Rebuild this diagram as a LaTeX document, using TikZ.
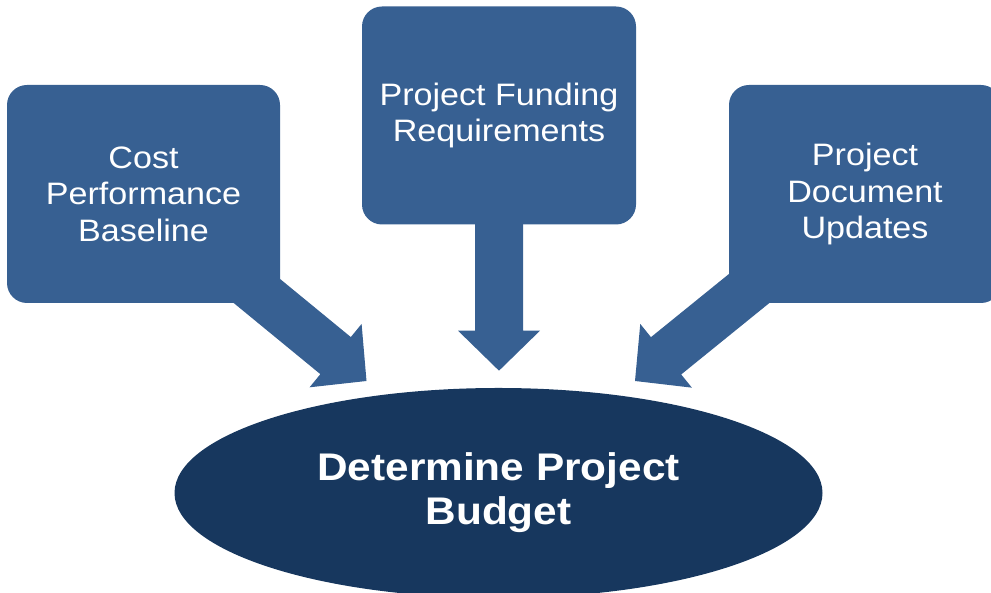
\documentclass[tikz,border=0pt]{standalone}
\usepackage{fontspec}
\setmainfont{Liberation Sans}[FakeStretch=1.1]
\usetikzlibrary{calc,shapes.geometric}
\definecolor{boxblue}{RGB}{55,96,146}
\definecolor{deepblue}{RGB}{23,55,94}
\newcommand\feedarrow[2]{%
    \coordinate (#2-back) at ($(#2)!40pt!(#1)$);
    \fill[boxblue] ($(#1)!24pt!90:(#2)$) -- ($(#2-back)!24pt!90:(#2)$) -- ($(#2-back)!41pt!90:(#2)$)
        -- (#2) -- ($(#2-back)!41pt!-90:(#2)$) -- ($(#2-back)!24pt!-90:(#2)$) -- ($(#1)!24pt!-90:(#2)$) -- cycle;}

\begin{document}
\begin{tikzpicture}[x=1pt,y=1pt,
        inbox/.style={fill=boxblue,rounded corners=20pt,minimum width=273pt,minimum height=218pt,
            inner sep=0pt,text=white,align=center,font=\fontsize{31}{36.5}\selectfont}]
        \useasboundingbox (0,0) rectangle (991,593);
        \node[inbox] (cost) at (143.5,399) {Cost\\Performance\\Baseline};
        \node[inbox,minimum width=274pt] (funding) at (499,477.5) {Project Funding\\Requirements};
        \node[inbox,minimum width=272pt] (updates) at (865,399) {Project\\Document\\Updates};
        \node[ellipse,fill=deepblue,minimum width=648pt,minimum height=210pt,inner sep=0pt,
            text=white,align=center,font=\fontsize{38.5}{44}\selectfont\bfseries] (budget) at (498.5,100)
            {Determine Project\\Budget};
        \coordinate (costout) at ([shift={(-45,30)}]cost.south east);
        \coordinate (costtip) at ([shift={(-132,112)}]budget.center);
        \coordinate (fundout) at ([yshift=30pt]funding.south);
        \coordinate (fundtip) at ([yshift=-146pt]funding.south);
        \coordinate (updout) at ([shift={(38,29)}]updates.south west);
        \coordinate (updtip) at ([shift={(136.5,112)}]budget.center);
        \feedarrow{costout}{costtip}
        \feedarrow{fundout}{fundtip}
        \feedarrow{updout}{updtip}
    \end{tikzpicture}
\end{document}
